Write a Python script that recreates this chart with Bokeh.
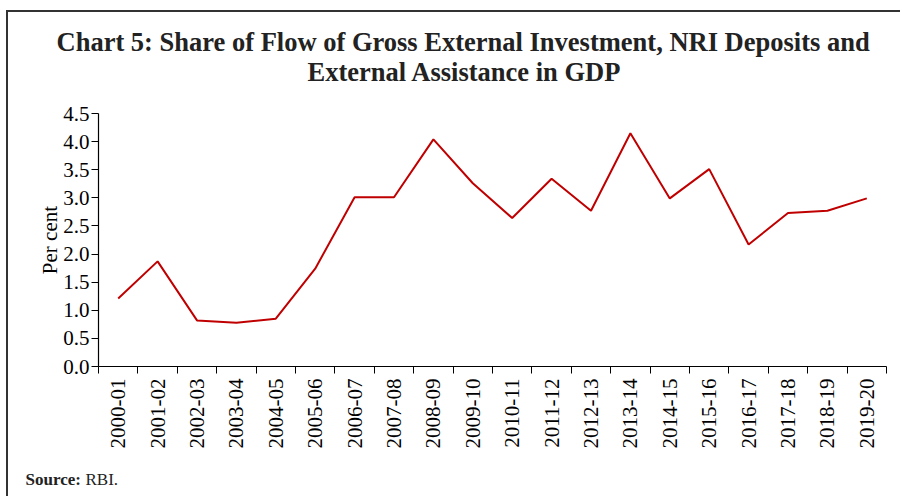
import math
from bokeh.plotting import figure
from bokeh.layouts import column
from bokeh.models import (ColumnDataSource, FixedTicker, CustomJSTickFormatter,
                          Range1d, Title)
from bokeh.embed import file_html
from bokeh.resources import INLINE

years = ["2000-01", "2001-02", "2002-03", "2003-04", "2004-05", "2005-06",
         "2006-07", "2007-08", "2008-09", "2009-10", "2010-11", "2011-12",
         "2012-13", "2013-14", "2014-15", "2015-16", "2016-17", "2017-18",
         "2018-19", "2019-20"]
share = [1.21, 1.87, 0.82, 0.78, 0.85, 1.74, 3.01, 3.01, 4.04, 3.26,
         2.64, 3.34, 2.77, 4.15, 2.99, 3.51, 2.17, 2.73, 2.77, 2.99]
y_ticks = [0.0, 0.5, 1.0, 1.5, 2.0, 2.5, 3.0, 3.5, 4.0, 4.5]

title_1 = "Chart 5: Share of Flow of Gross External Investment, NRI Deposits and"
title_2 = "External Assistance in GDP"
source_head = "Source:"
source_text = "RBI."

n = len(years)
centers = [i + 0.5 for i in range(n)]
bounds = [float(i) for i in range(n + 1)]

W, H = 892, 484
FONT = "Liberation Serif"
DARK = "#222222"

p = figure(width=W, height=H, output_backend="svg", toolbar_location=None,
           x_range=Range1d(0, n), y_range=Range1d(0, 4.5),
           min_border_left=90, min_border_right=W - 90 - 788,
           min_border_top=101, min_border_bottom=130)
p.title.visible = False
p.outline_line_color = None
p.xgrid.visible = False
p.ygrid.visible = False
p.background_fill_color = "white"
p.border_fill_color = "white"

src = ColumnDataSource(dict(x=centers, y=share))
p.line("x", "y", source=src, line_color="#C00000", line_width=2)

xa = p.xaxis[0]
xa.ticker = FixedTicker(ticks=centers, minor_ticks=bounds)
xa.formatter = CustomJSTickFormatter(args=dict(labels=years),
                                     code="return labels[Math.round(tick - 0.5)] || '';")
xa.major_tick_line_color = None
xa.minor_tick_line_color = "black"
xa.minor_tick_out = 7
xa.minor_tick_in = 0
xa.axis_line_color = "black"
xa.axis_line_width = 1.2
xa.major_label_orientation = math.pi / 2
xa.major_label_text_font = FONT
xa.major_label_text_font_size = "21px"
xa.major_label_text_color = "black"
xa.major_label_standoff = 5

ya = p.yaxis[0]
ya.ticker = FixedTicker(ticks=y_ticks)
ya.formatter = CustomJSTickFormatter(code="return tick.toFixed(1);")
ya.minor_tick_line_color = None
ya.major_tick_out = 7
ya.major_tick_in = 0
ya.major_tick_line_color = "black"
ya.axis_line_color = "black"
ya.axis_line_width = 1.2
ya.major_label_text_font = FONT
ya.major_label_text_font_size = "21px"
ya.major_label_text_color = "black"
ya.major_label_standoff = 2
ya.axis_label = "Per cent"
ya.axis_label_text_font = FONT
ya.axis_label_text_font_size = "21px"
ya.axis_label_text_font_style = "normal"
ya.axis_label_text_color = "black"
ya.axis_label_standoff = -2

# Titles with a negative standoff take no panel room; text is placed standoff/2 away
p.add_layout(Title(text=title_2, align="left", offset=209, standoff=-114,
                   vertical_align="top",
                   text_font=FONT, text_font_size="26.5px", text_font_style="bold",
                   text_color=DARK), "above")
p.add_layout(Title(text=title_1, align="left", offset=-42, standoff=-173,
                   vertical_align="top",
                   text_font=FONT, text_font_size="26.5px", text_font_style="bold",
                   text_color=DARK), "above")

p.add_layout(Title(text=source_head, align="left", offset=-73, standoff=-75,
                   text_font=FONT, text_font_size="17px", text_font_style="bold",
                   text_color=DARK), "below")
p.add_layout(Title(text=source_text, align="left", offset=-13, standoff=-75,
                   text_font=FONT, text_font_size="17px", text_font_style="normal",
                   text_color=DARK), "below")

page = column(p, styles={"border-top": "2px solid #333", "border-left": "2px solid #333",
                         "margin-left": "6px", "margin-top": "10px"})

open("out.html", "w").write(file_html(page, INLINE))
